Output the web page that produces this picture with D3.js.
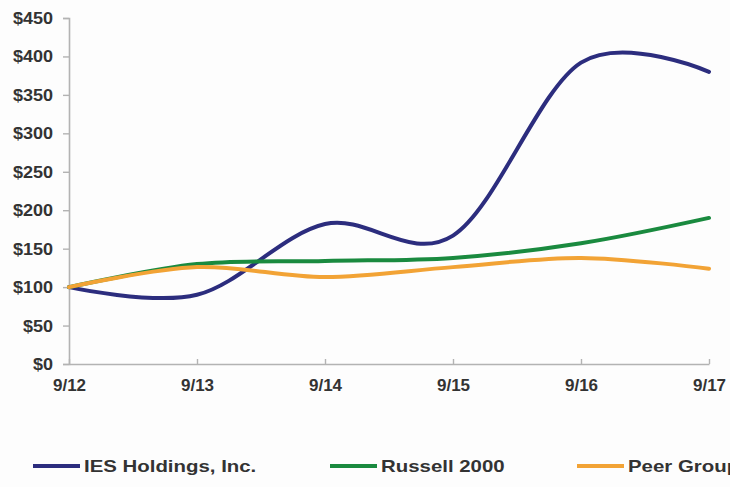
<!DOCTYPE html>
<html>
<head>
<meta charset="utf-8">
<script src="https://cdn.jsdelivr.net/npm/d3@7"></script>
<style>
  html, body { margin: 0; padding: 0; background: #fdfdfd; }
  svg { display: block; }
  text { font-family: "Liberation Sans", Arial, sans-serif; font-weight: bold; fill: #333; }
</style>
</head>
<body>
<svg id="chart" width="730" height="487"></svg>
<script>
const categories = ["9/12", "9/13", "9/14", "9/15", "9/16", "9/17"];
const yTicks = [0, 50, 100, 150, 200, 250, 300, 350, 400, 450];
const seriesNames = ["IES Holdings, Inc.", "Russell 2000", "Peer Group"];
const seriesColors = ["#2c2d7e", "#1a8a3f", "#f2a335"];
const iesValues = [100, 90, 182, 167, 392, 380];
const russellValues = [100, 130, 134, 138, 157, 190];
const peerValues = [100, 126, 113, 126, 138, 124];
const allSeries = [iesValues, russellValues, peerValues];

const svg = d3.select("#chart");
const x = d3.scalePoint().domain(categories).range([69, 709]);
const y = d3.scaleLinear().domain([0, 450]).range([364, 18]);
const axisColor = "#b3b3b3";

// Y axis
const yAxis = svg.append("g").attr("transform", "translate(69,0)")
  .call(d3.axisLeft(y).tickValues(yTicks).tickSize(6).tickPadding(10)
    .tickFormat(d => "$" + d));
yAxis.select(".domain").attr("stroke", axisColor).attr("stroke-width", 1.6);
yAxis.selectAll(".tick line").attr("stroke", axisColor).attr("stroke-width", 1.4);
yAxis.selectAll(".tick text").style("font-size", "17px").attr("fill", "#333")
  .each(function () {
    const w = this.getComputedTextLength();
    d3.select(this).attr("textLength", w * 1.06).attr("lengthAdjust", "spacingAndGlyphs");
  });

// X axis (ticks pointing up into the plot)
const xAxis = svg.append("g").attr("transform", "translate(0,364)")
  .call(d3.axisBottom(x).tickSizeInner(-5).tickSizeOuter(0).tickPadding(10));
xAxis.select(".domain").attr("stroke", axisColor).attr("stroke-width", 1.6);
xAxis.selectAll(".tick line").attr("stroke", axisColor).attr("stroke-width", 1.4);
xAxis.selectAll(".tick text").style("font-size", "17px").attr("fill", "#333").attr("dy", "1em");

// Lines
const line = d3.line()
  .x((d, i) => x(categories[i]))
  .y(d => y(d))
  .curve(d3.curveCardinal.tension(0));

allSeries.forEach((vals, k) => {
  svg.append("path")
    .datum(vals)
    .attr("fill", "none")
    .attr("stroke", seriesColors[k])
    .attr("stroke-width", 4)
    .attr("stroke-linecap", "round")
    .attr("d", line);
});

// Legend
const legendX = [33, 330, 577];
const legend = svg.append("g");
seriesNames.forEach((name, k) => {
  legend.append("line")
    .attr("x1", legendX[k]).attr("x2", legendX[k] + 47)
    .attr("y1", 466).attr("y2", 466)
    .attr("stroke", seriesColors[k]).attr("stroke-width", 4);
  const t = legend.append("text")
    .attr("x", legendX[k] + 51).attr("y", 472)
    .style("font-size", "17px").attr("fill", "#222")
    .text(name);
  const w = t.node().getComputedTextLength();
  t.attr("textLength", w * 1.2).attr("lengthAdjust", "spacingAndGlyphs");
});
</script>
</body>
</html>
